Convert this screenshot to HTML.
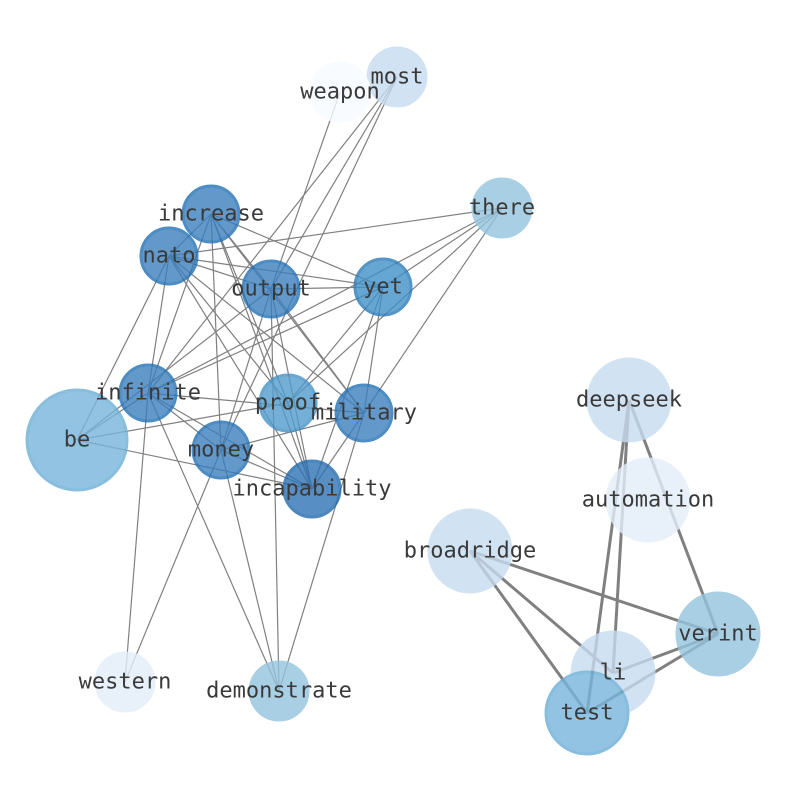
<!DOCTYPE html>
<html><head><meta charset="utf-8"><style>body{margin:0;background:#fff}svg{display:block}text{font-family:"DejaVu Sans Mono","Liberation Mono",monospace;font-size:22px;fill:#3a3a3a;text-anchor:middle;dominant-baseline:central}</style></head><body>
<svg width="794" height="790" viewBox="0 0 794 790">
<g stroke="#808080" stroke-width="1.2">
<line x1="340" y1="92" x2="271" y2="289"/>
<line x1="397" y1="77" x2="271" y2="289"/>
<line x1="397" y1="77" x2="148" y2="393"/>
<line x1="397" y1="77" x2="221" y2="450"/>
<line x1="502" y1="208" x2="169" y2="256"/>
<line x1="502" y1="208" x2="383" y2="287"/>
<line x1="502" y1="208" x2="148" y2="393"/>
<line x1="502" y1="208" x2="288" y2="403"/>
<line x1="502" y1="208" x2="364" y2="413"/>
<line x1="211" y1="214" x2="169" y2="256"/>
<line x1="211" y1="214" x2="271" y2="289"/>
<line x1="211" y1="214" x2="383" y2="287"/>
<line x1="211" y1="214" x2="221" y2="450"/>
<line x1="211" y1="214" x2="288" y2="403"/>
<line x1="211" y1="214" x2="364" y2="413"/>
<line x1="211" y1="214" x2="312" y2="489"/>
<line x1="211" y1="214" x2="148" y2="393"/>
<line x1="169" y1="256" x2="271" y2="289"/>
<line x1="169" y1="256" x2="383" y2="287"/>
<line x1="169" y1="256" x2="77" y2="440"/>
<line x1="169" y1="256" x2="148" y2="393"/>
<line x1="169" y1="256" x2="364" y2="413"/>
<line x1="169" y1="256" x2="312" y2="489"/>
<line x1="169" y1="256" x2="288" y2="403"/>
<line x1="271" y1="289" x2="383" y2="287"/>
<line x1="271" y1="289" x2="77" y2="440"/>
<line x1="271" y1="289" x2="221" y2="450"/>
<line x1="271" y1="289" x2="312" y2="489"/>
<line x1="271" y1="289" x2="364" y2="413"/>
<line x1="271" y1="289" x2="279" y2="691"/>
<line x1="383" y1="287" x2="148" y2="393"/>
<line x1="383" y1="287" x2="288" y2="403"/>
<line x1="383" y1="287" x2="312" y2="489"/>
<line x1="383" y1="287" x2="364" y2="413"/>
<line x1="148" y1="393" x2="77" y2="440"/>
<line x1="148" y1="393" x2="364" y2="413"/>
<line x1="148" y1="393" x2="221" y2="450"/>
<line x1="148" y1="393" x2="312" y2="489"/>
<line x1="148" y1="393" x2="125" y2="682"/>
<line x1="148" y1="393" x2="279" y2="691"/>
<line x1="77" y1="440" x2="288" y2="403"/>
<line x1="77" y1="440" x2="312" y2="489"/>
<line x1="221" y1="450" x2="364" y2="413"/>
<line x1="221" y1="450" x2="312" y2="489"/>
<line x1="221" y1="450" x2="125" y2="682"/>
<line x1="221" y1="450" x2="279" y2="691"/>
<line x1="364" y1="413" x2="312" y2="489"/>
<line x1="364" y1="413" x2="279" y2="691"/>
<line x1="288" y1="403" x2="312" y2="489"/>
</g>
<g stroke="#808080" stroke-width="3">
<line x1="629" y1="400" x2="587" y2="713"/>
<line x1="629" y1="400" x2="613" y2="673"/>
<line x1="629" y1="400" x2="718" y2="634"/>
<line x1="470" y1="551" x2="587" y2="713"/>
<line x1="470" y1="551" x2="613" y2="673"/>
<line x1="470" y1="551" x2="718" y2="634"/>
<line x1="718" y1="634" x2="613" y2="673"/>
<line x1="718" y1="634" x2="587" y2="713"/>
</g>
<g stroke-width="3" opacity="0.8">
<circle cx="397" cy="77" r="29" fill="#c6dbef" stroke="#c6dbef"/>
<circle cx="340" cy="92" r="29" fill="#f7fbff" stroke="#f7fbff"/>
<circle cx="502" cy="208" r="29" fill="#94c4df" stroke="#94c4df"/>
<circle cx="211" cy="214" r="28" fill="#3b7fbe" stroke="#2171b5"/>
<circle cx="169" cy="256" r="28" fill="#3b7fbe" stroke="#2171b5"/>
<circle cx="271" cy="289" r="28" fill="#3b7fbe" stroke="#2171b5"/>
<circle cx="383" cy="287" r="28" fill="#4190c8" stroke="#2a7ab9"/>
<circle cx="148" cy="393" r="28" fill="#3b7fbe" stroke="#2171b5"/>
<circle cx="77" cy="440" r="50" fill="#78b5db" stroke="#6aaed6"/>
<circle cx="288" cy="403" r="28" fill="#519ccc" stroke="#4292c6"/>
<circle cx="364" cy="413" r="28" fill="#3b7fbe" stroke="#2171b5"/>
<circle cx="221" cy="450" r="28" fill="#3b7fbe" stroke="#2171b5"/>
<circle cx="312" cy="489" r="28" fill="#2e72b5" stroke="#1f68ad"/>
<circle cx="125" cy="682" r="29" fill="#e3eef9" stroke="#e3eef9"/>
<circle cx="279" cy="691" r="29" fill="#94c4df" stroke="#94c4df"/>
<circle cx="629" cy="400" r="41" fill="#c6dbef" stroke="#c6dbef"/>
<circle cx="648" cy="500" r="41" fill="#e3eef9" stroke="#e3eef9"/>
<circle cx="470" cy="551" r="41" fill="#c6dbef" stroke="#c6dbef"/>
<circle cx="718" cy="634" r="41" fill="#94c4df" stroke="#94c4df"/>
<circle cx="613" cy="673" r="41" fill="#c6dbef" stroke="#c6dbef"/>
<circle cx="587" cy="713" r="41" fill="#78b5db" stroke="#6aaed6"/>
</g>
<text x="397" y="77">most</text>
<text x="340" y="92">weapon</text>
<text x="502" y="208">there</text>
<text x="211" y="214">increase</text>
<text x="169" y="256">nato</text>
<text x="271" y="289">output</text>
<text x="383" y="287">yet</text>
<text x="148" y="393">infinite</text>
<text x="77" y="440">be</text>
<text x="288" y="403">proof</text>
<text x="364" y="413">military</text>
<text x="221" y="450">money</text>
<text x="312" y="489">incapability</text>
<text x="125" y="682">western</text>
<text x="279" y="691">demonstrate</text>
<text x="629" y="400">deepseek</text>
<text x="648" y="500">automation</text>
<text x="470" y="551">broadridge</text>
<text x="718" y="634">verint</text>
<text x="613" y="673">li</text>
<text x="587" y="713">test</text>
</svg>
</body></html>
